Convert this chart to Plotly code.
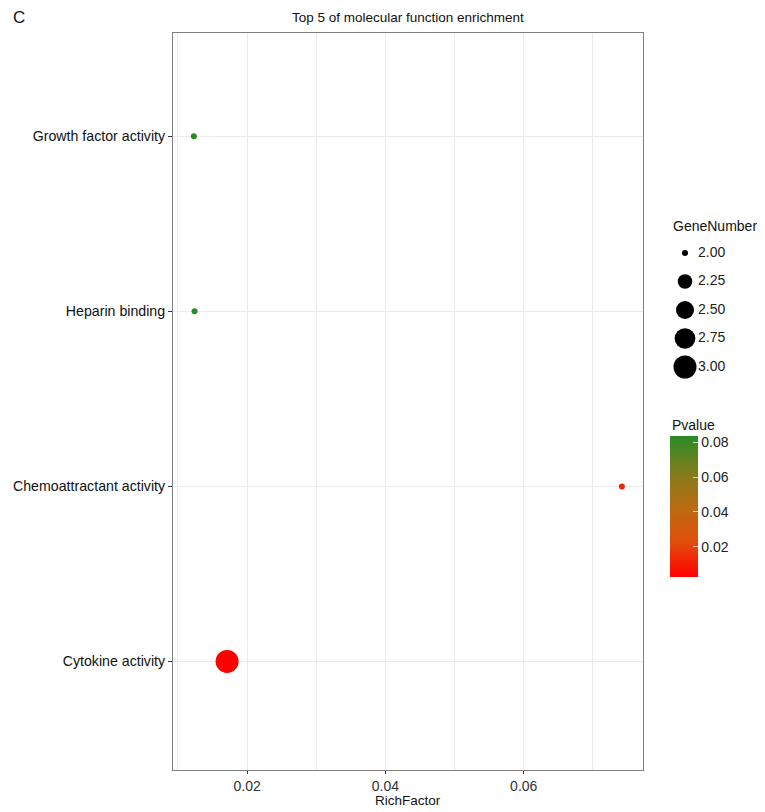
import plotly.graph_objects as go

# data
terms = ["Cytokine activity", "Chemoattractant activity", "Heparin binding", "Growth factor activity"]
rich_factor = [0.0171, 0.0742, 0.0124, 0.0123]
gene_number = [3, 2, 2, 2]
pvalue = [0.0027, 0.012, 0.0834, 0.0832]

legend_sizes = [2.00, 2.25, 2.50, 2.75, 3.00]
legend_labels = ["2.00", "2.25", "2.50", "2.75", "3.00"]
pv_ticks = [0.02, 0.04, 0.06, 0.08]

# page geometry; the page body adds an 8px offset, so screen px are shifted back
W, H = 765, 812
OFF = 8
ML, MT = 173 - OFF, 33 - OFF
MR = 2
MB = H - (770 - OFF)
PW = W - ML - MR
PH = H - MT - MB


def px_x(p):
    return (p - OFF - ML) / PW


def px_y(p):
    return (H - MB - (p - OFF)) / PH


def marker_px(n):
    # ggplot-style area scaling (diameter 6..23 px)
    t = (n - 2.0) / (3.0 - 2.0)
    return 6 + (t ** 0.5) * (23 - 6)


colorscale = [
    [0.0, "#FF0000"],
    [0.25, "#E24E0C"],
    [0.5, "#B86D12"],
    [0.75, "#7F7D1C"],
    [1.0, "#2A8B27"],
]

FONT = "Liberation Sans, Arial, sans-serif"

fig = go.Figure()

fig.add_trace(go.Scatter(
    x=rich_factor, y=terms, mode="markers",
    marker=dict(
        size=[marker_px(n) for n in gene_number],
        color=pvalue, colorscale=colorscale,
        cmin=0.0027, cmax=0.0836,
        line=dict(width=0), opacity=1,
        colorbar=dict(
            x=px_x(670), xanchor="left", xpad=0,
            y=px_y(577), yanchor="bottom", ypad=0,
            len=141, lenmode="pixels", thickness=28,
            tickvals=pv_ticks, ticktext=[f"{v:.2f}" for v in pv_ticks],
            ticks="inside", ticklen=5, tickcolor="rgba(255,255,255,0.7)",
            tickfont=dict(size=14, color="#222", family=FONT),
            outlinewidth=0,
        ),
    ),
    showlegend=False, hoverinfo="x+y",
))

# size legend on its own small axis
fig.add_trace(go.Scatter(
    x=[0] * len(legend_sizes), y=legend_sizes, mode="markers",
    marker=dict(size=[marker_px(n) for n in legend_sizes], color="#000000",
                opacity=1, line=dict(width=0)),
    xaxis="x2", yaxis="y2", showlegend=False, hoverinfo="skip", cliponaxis=False,
))
fig.add_trace(go.Scatter(
    x=[1.3] * len(legend_sizes), y=legend_sizes, mode="text",
    text=legend_labels, textposition="middle right",
    textfont=dict(size=14, color="#222", family=FONT),
    xaxis="x2", yaxis="y2", showlegend=False, hoverinfo="skip", cliponaxis=False,
))

axis_font = dict(size=14, color="#333", family=FONT)

fig.update_layout(
    width=W, height=H,
    paper_bgcolor="white", plot_bgcolor="white",
    margin=dict(l=ML, r=MR, t=MT, b=MB, autoexpand=False),
    font=dict(family=FONT, size=14, color="#222"),
    xaxis=dict(
        domain=[0, px_x(643)],
        range=[0.00928, 0.07725], tickvals=[0.02, 0.04, 0.06],
        ticktext=["0.02", "0.04", "0.06"],
        showgrid=True, gridcolor="#EBEBEB", gridwidth=1,
        minor=dict(dtick=0.01, tick0=0, showgrid=True, gridcolor="#EBEBEB", gridwidth=1),
        ticks="outside", ticklen=3, tickcolor="#333",
        showline=True, linecolor="#7F7F7F", linewidth=1, mirror=True,
        zeroline=False, tickfont=axis_font, automargin=False,
    ),
    yaxis=dict(
        type="category", categoryorder="array", categoryarray=terms,
        range=[-0.62, 3.59],
        showgrid=True, gridcolor="#EBEBEB", gridwidth=1,
        ticks="outside", ticklen=4, tickcolor="#333",
        showline=True, linecolor="#7F7F7F", linewidth=1, mirror=True,
        tickfont=dict(size=14.2, color="#111", family=FONT), automargin=False,
    ),
    xaxis2=dict(domain=[px_x(675), px_x(735)], range=[-1, 5], visible=False, anchor="y2"),
    yaxis2=dict(domain=[px_y(367), px_y(253)], range=[3, 2], visible=False, anchor="x2"),
    annotations=[
        dict(text="C", x=px_x(11), y=px_y(17), xref="paper", yref="paper",
             xanchor="left", yanchor="middle", showarrow=False,
             font=dict(size=17, color="#111")),
        dict(text="Top 5 of molecular function enrichment", x=px_x(408), y=px_y(17),
             xref="paper", yref="paper", xanchor="center", yanchor="middle",
             showarrow=False, font=dict(size=13.5, color="#111")),
        dict(text="RichFactor", x=px_x(408), y=px_y(801), xref="paper", yref="paper",
             xanchor="center", yanchor="middle", showarrow=False,
             font=dict(size=13.5, color="#111")),
        dict(text="GeneNumber", x=px_x(671), y=px_y(226), xref="paper", yref="paper",
             xanchor="left", yanchor="middle", showarrow=False,
             font=dict(size=14, color="#111")),
        dict(text="Pvalue", x=px_x(670), y=px_y(425), xref="paper", yref="paper",
             xanchor="left", yanchor="middle", showarrow=False,
             font=dict(size=14, color="#111")),
    ],
)

fig.write_html("out.html")
